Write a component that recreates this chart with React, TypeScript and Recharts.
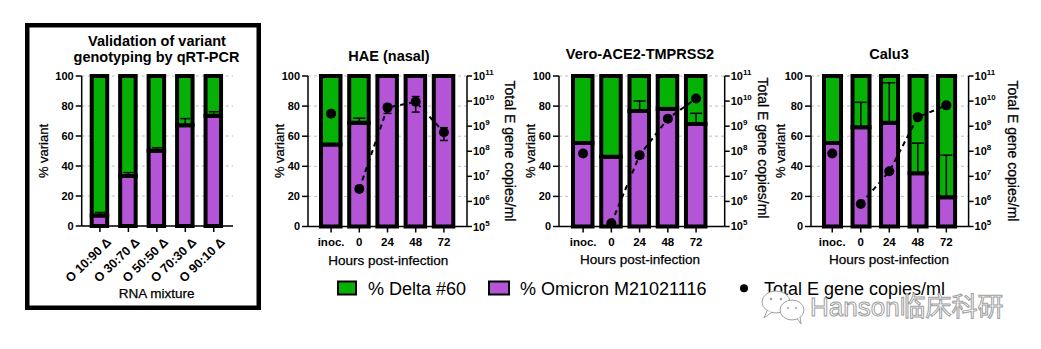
import React from 'react';
import { ComposedChart, Bar, Line, XAxis, YAxis, CartesianGrid, ErrorBar } from 'recharts';

const FONT = '"Liberation Sans", Arial, Helvetica, sans-serif';
const GREEN = '#06b106';
const PURPLE = '#b355d6';

// ---------- data ----------
const mixtureLabels = ['O 10:90 Δ', 'O 30:70 Δ', 'O 50:50 Δ', 'O 70:30 Δ', 'O 90:10 Δ'];
const mixtureOmicron = [7, 33.3, 50.2, 67.1, 73.5];
const mixtureOmicronErr = [2, 2.3, 2, 4.5, 2.7];

const hoursLabels = ['inoc.', '0', '24', '48', '72'];
const percentTicks = [0, 20, 40, 60, 80, 100];
const log10Ticks = [5, 6, 7, 8, 9, 10, 11];

const haeOmicron = [54.5, 69, 100, 100, 100];
const haeOmicronErr = [0, 3, 0, 0, 0];
const haeLogCopies = [9.5, 6.5, 9.74, 9.97, 8.76];
const haeLogErrLow = [0, 0, 0.23, 0.41, 0.33];
const haeLogErrHigh = [0, 0, 0.13, 0.21, 0.18];

const veroOmicron = [55.5, 46.4, 76.8, 78, 68.1];
const veroOmicronErr = [0, 0, 6.6, 1, 7.1];
const veroLogCopies = [7.91, 5.13, 7.84, 9.3, 10.1];
const veroLogErrLow = [0, 0, 0.12, 0.05, 0];
const veroLogErrHigh = [0, 0, 0.12, 0.05, 0];

const caluOmicron = [55.5, 66, 69, 35.4, 19.4];
const caluOmicronErr = [0, 16.5, 26.5, 20, 28];
const caluLogCopies = [7.91, 5.9, 7.2, 9.36, 9.83];
const caluLogErrLow = [0, 0, 0.08, 0.07, 0];
const caluLogErrHigh = [0, 0, 0.08, 0.07, 0];

const legendLabels = ['% Delta #60', '% Omicron M21021116', 'Total E gene copies/ml'];

// ---------- rows ----------
const mixRows = mixtureLabels.map((label, i) => ({
  label,
  omicron: mixtureOmicron[i],
  delta: 100 - mixtureOmicron[i],
  omErr: mixtureOmicronErr[i] > 0 ? [0, mixtureOmicronErr[i]] : null,
}));

function timeRows(om: number[], omErr: number[], logC: number[], lo: number[], hi: number[]) {
  return hoursLabels.map((label, i) => ({
    label,
    omicron: om[i],
    delta: 100 - om[i],
    omErr: omErr[i] > 0 ? [0, omErr[i]] : null,
    inocCopies: i === 0 ? logC[i] : null,
    copies: i === 0 ? null : logC[i],
    copiesErr: i === 0 || (lo[i] === 0 && hi[i] === 0) ? null : [lo[i], hi[i]],
  }));
}

const haeRows = timeRows(haeOmicron, haeOmicronErr, haeLogCopies, haeLogErrLow, haeLogErrHigh);
const veroRows = timeRows(veroOmicron, veroOmicronErr, veroLogCopies, veroLogErrLow, veroLogErrHigh);
const caluRows = timeRows(caluOmicron, caluOmicronErr, caluLogCopies, caluLogErrLow, caluLogErrHigh);

// ---------- ticks ----------
const PowTick = (props: any) => {
  const { x, y, payload } = props;
  return (
    <text x={x} y={y} dy={4} textAnchor="start" fill="#000" fontSize={11} fontWeight={700} fontFamily={FONT}>
      10
      <tspan dy={-5} fontSize={8}>
        {payload.value}
      </tspan>
    </text>
  );
};

const RotTick = (props: any) => {
  const { x, y, payload } = props;
  const ax = x + 12;
  const ay = y + 9;
  return (
    <text
      x={ax}
      y={ay}
      textAnchor="end"
      transform={`rotate(-44 ${ax} ${ay})`}
      fill="#000"
      fontSize={12.5}
      fontWeight={700}
      fontFamily={FONT}
    >
      {payload.value}
    </text>
  );
};

const tickStyle = { fill: '#000', fontSize: 11, fontWeight: 700, fontFamily: FONT };
const axisLine = { stroke: '#000', strokeWidth: 1.5 };
const BAR_STROKE = 4;
const DOT = { r: 5, fill: '#000', stroke: '#000', strokeWidth: 0 };

function MixturePanel() {
  return (
    <div style={{ position: 'absolute', left: 0, top: 0 }}>
      <ComposedChart width={260} height={310} data={mixRows} margin={{ top: 76, right: 27, left: 0, bottom: 0 }}>
        <CartesianGrid vertical={false} strokeDasharray="3 3" stroke="#bdbdbd" />
        <XAxis
          dataKey="label"
          height={84}
          padding={{ left: 4, right: 5 }}
          interval={0}
          tickSize={6}
          tickMargin={2}
          tick={<RotTick />}
          axisLine={axisLine}
          tickLine={axisLine}
        />
        <YAxis
          width={81.7}
          domain={[0, 100]}
          ticks={percentTicks}
          interval={0}
          tickSize={6}
          tickMargin={2}
          tick={tickStyle}
          axisLine={axisLine}
          tickLine={axisLine}
        />
        <Bar dataKey="omicron" stackId="s" fill={PURPLE} stroke="#000" strokeWidth={BAR_STROKE} barSize={15.5} isAnimationActive={false} />
        <Bar dataKey="delta" stackId="s" fill={GREEN} stroke="#000" strokeWidth={BAR_STROKE} barSize={15.5} isAnimationActive={false} />
        <Line dataKey="omicron" stroke="none" dot={false} activeDot={false} isAnimationActive={false}>
          <ErrorBar dataKey="omErr" width={5} stroke="#000" strokeWidth={1.5} direction="y" />
        </Line>
      </ComposedChart>
    </div>
  );
}

function TimePanel(props: { left: number; right: number; rows: any[]; padL: number; padR: number; barSize: number }) {
  const { left, right, rows, padL, padR, barSize } = props;
  const axisW = 60;
  const width = right - left + 2 * axisW;
  return (
    <div style={{ position: 'absolute', left: left - axisW, top: 0 }}>
      <ComposedChart width={width} height={310.5} data={rows} margin={{ top: 76, right: 0, bottom: 0, left: 0 }}>
        <CartesianGrid yAxisId="left" vertical={false} strokeDasharray="3 3" stroke="#bdbdbd" />
        <XAxis
          dataKey="label"
          height={84}
          padding={{ left: padL, right: padR }}
          interval={0}
          tickSize={6}
          tickMargin={5}
          tick={{ ...tickStyle, fontSize: 11.5 }}
          axisLine={axisLine}
          tickLine={axisLine}
        />
        <YAxis
          yAxisId="left"
          orientation="left"
          width={axisW}
          domain={[0, 100]}
          ticks={percentTicks}
          interval={0}
          tickSize={6}
          tickMargin={2}
          tick={tickStyle}
          axisLine={axisLine}
          tickLine={axisLine}
        />
        <YAxis
          yAxisId="right"
          orientation="right"
          width={axisW}
          type="number"
          domain={[5, 11]}
          ticks={log10Ticks}
          interval={0}
          tickSize={5}
          tickMargin={1}
          tick={<PowTick />}
          axisLine={axisLine}
          tickLine={axisLine}
        />
        <Bar yAxisId="left" dataKey="omicron" stackId="s" fill={PURPLE} stroke="#000" strokeWidth={BAR_STROKE} barSize={barSize} isAnimationActive={false} />
        <Bar yAxisId="left" dataKey="delta" stackId="s" fill={GREEN} stroke="#000" strokeWidth={BAR_STROKE} barSize={barSize} isAnimationActive={false} />
        <Line yAxisId="left" dataKey="omicron" stroke="none" dot={false} activeDot={false} isAnimationActive={false}>
          <ErrorBar dataKey="omErr" width={6} stroke="#000" strokeWidth={1.5} direction="y" />
        </Line>
        <Line
          yAxisId="right"
          dataKey="copies"
          stroke="#000"
          strokeWidth={2}
          strokeDasharray="5 4"
          dot={DOT}
          activeDot={false}
          isAnimationActive={false}
        >
          <ErrorBar dataKey="copiesErr" width={4} stroke="#000" strokeWidth={1.5} direction="y" />
        </Line>
        <Line yAxisId="right" dataKey="inocCopies" stroke="none" dot={DOT} activeDot={false} isAnimationActive={false} />
      </ComposedChart>
    </div>
  );
}

function Overlay() {
  const t = { fontFamily: FONT, fill: '#000' } as const;
  const heavy = { stroke: '#000', strokeWidth: 0.25 } as const;
  const rightLabel = (x: number, y: number) => (
    <text x={x} y={y} transform={`rotate(90 ${x} ${y})`} textAnchor="middle" fontSize={14} {...t} {...heavy}>
      Total E gene copies/ml
    </text>
  );
  const leftLabel = (x: number, y: number) => (
    <text x={x} y={y} transform={`rotate(-90 ${x} ${y})`} textAnchor="middle" fontSize={13} {...t} {...heavy}>
      % variant
    </text>
  );
  return (
    <svg width={1041} height={349} style={{ position: 'absolute', left: 0, top: 0, pointerEvents: 'none' }}>
      {/* panel 1 frame */}
      <rect x={27.25} y={25.25} width={231.5} height={282.5} fill="none" stroke="#000" strokeWidth={4.5} />
      <text x={157} y={46} textAnchor="middle" fontSize={14.5} fontWeight={700} {...t}>
        Validation of variant
      </text>
      <text x={156.5} y={62} textAnchor="middle" fontSize={14.5} fontWeight={700} {...t}>
        genotyping by qRT-PCR
      </text>
      {leftLabel(48, 151)}
      <text x={156.7} y={298} textAnchor="middle" fontSize={13.5} {...t} {...heavy}>
        RNA mixture
      </text>

      {/* panel titles */}
      <text x={389} y={61} textAnchor="middle" fontSize={14.5} fontWeight={700} {...t}>
        HAE (nasal)
      </text>
      <text x={640} y={58.5} textAnchor="middle" fontSize={14.5} fontWeight={700} {...t}>
        Vero-ACE2-TMPRSS2
      </text>
      <text x={889} y={58.5} textAnchor="middle" fontSize={14.5} fontWeight={700} {...t}>
        Calu3
      </text>

      {leftLabel(284, 151)}
      {leftLabel(535, 151)}
      {leftLabel(785, 151)}
      {rightLabel(505, 151)}
      {rightLabel(758, 148)}
      {rightLabel(1008, 151)}

      <text x={388.3} y={264.5} textAnchor="middle" fontSize={13.5} {...t} {...heavy}>
        Hours post-infection
      </text>
      <text x={640} y={263.5} textAnchor="middle" fontSize={13.5} {...t} {...heavy}>
        Hours post-infection
      </text>
      <text x={889} y={263.5} textAnchor="middle" fontSize={13.5} {...t} {...heavy}>
        Hours post-infection
      </text>

      {/* legend */}
      <rect x={338} y={281.5} width={18} height={13} fill={GREEN} stroke="#000" strokeWidth={2} />
      <text x={368} y={294.5} fontSize={18} {...t}>
        {legendLabels[0]}
      </text>
      <rect x={489} y={281.5} width={20} height={13} fill={PURPLE} stroke="#000" strokeWidth={2} />
      <text x={520} y={294.5} fontSize={18} {...t}>
        {legendLabels[1]}
      </text>
      <circle cx={744} cy={288.3} r={4} fill="#000" />
      <text x={764} y={294.5} fontSize={18} {...t}>
        {legendLabels[2]}
      </text>

      {/* watermark */}
      <g fill="#fff" stroke="#a0a0a0" strokeWidth={1}>
        <ellipse cx={776} cy={302} rx={14} ry={11} />
        <path d="M767 311 L764 318 L772 312" />
        <ellipse cx={792} cy={310} rx={12} ry={10} />
        <path d="M797 318 L801 324 L800 317" />
        <circle cx={771} cy={299} r={1.3} fill="#a0a0a0" stroke="none" />
        <circle cx={781} cy={299} r={1.3} fill="#a0a0a0" stroke="none" />
        <circle cx={788} cy={308} r={1.1} fill="#a0a0a0" stroke="none" />
        <circle cx={796} cy={308} r={1.1} fill="#a0a0a0" stroke="none" />
      </g>
      <text
        x={810}
        y={316}
        fontSize={26}
        fontFamily={'"Liberation Sans", "Noto Sans CJK SC", sans-serif'}
        fill="#fff"
        stroke="#a0a0a0"
        strokeWidth={1}
      >
        Hanson临床科研
      </text>
    </svg>
  );
}

export default function App() {
  return (
    <div style={{ position: 'absolute', left: 0, top: 0, width: 1041, height: 349, background: '#fff', overflow: 'hidden' }}>
      <MixturePanel />
      <TimePanel left={308.3} right={467.3} rows={haeRows} padL={9} padR={9} barSize={19.5} />
      <TimePanel left={559.3} right={725} rows={veroRows} padL={10} padR={14.5} barSize={19.5} />
      <TimePanel left={810.7} right={968.3} rows={caluRows} padL={7} padR={8} barSize={17} />
      <Overlay />
    </div>
  );
}
